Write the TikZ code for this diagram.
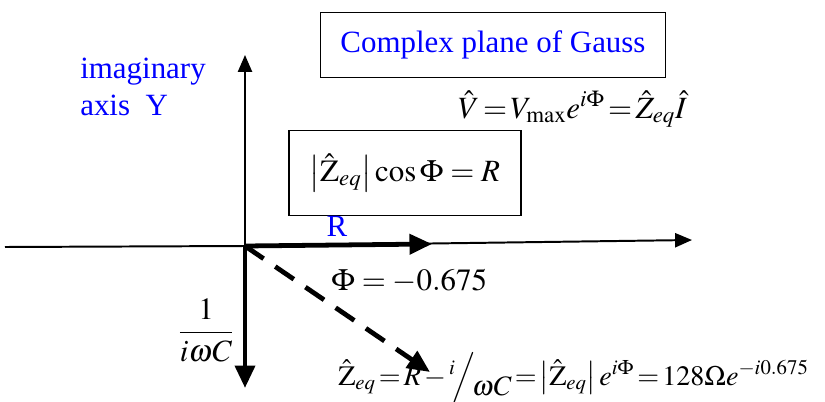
\documentclass[tikz,border=0pt]{standalone}
\usepackage{amsmath}
\usepackage{mathptmx}
\usepackage[no-math]{fontspec}
\setmainfont{Liberation Serif}
\usepackage{xcolor}
\usetikzlibrary{arrows.meta, positioning, calc}

\begin{document}
\begin{tikzpicture}[
		x=0.025cm, y=-0.025cm,
		every node/.style={font=\fontsize{22}{26}\selectfont, inner sep=0pt},
		axis/.style={line width=1.4pt},
		vec/.style={line width=3.4pt, -{Triangle[length=16pt, width=14pt]}},
		label/.style={text=blue},
		frame/.style={draw, line width=1pt, inner sep=0pt},
		tight/.style={execute at begin node={\thickmuskip=2mu\medmuskip=2mu}}
		]
		\useasboundingbox (0,0) rectangle (825,402);
		
		% Origin and axes
		\coordinate (O) at (245,246);
		\coordinate (West) at (5,247);
		\coordinate (North) at (245,55);
		\coordinate (Vtip) at (692,240);
		\draw[axis] (West) -- (O);
		\draw[axis, -{Triangle[length=12pt, width=10pt]}] (O) -- (North);
		\draw[axis, -{Triangle[length=12pt, width=10pt]}] (O) -- (Vtip);
		
		% Vectors
		\coordinate (Rtip) at (432,244);
		\coordinate (Ctip) at (245,388);
		\coordinate (Ztip) at (430,372);
		\draw[vec] (O) -- (Rtip);
		\draw[vec] (O) -- (Ctip);
		\draw[vec, dash pattern=on 16pt off 10pt] (O) -- (Ztip);
		
		% Boxes
		\node[frame, minimum width=345*0.025cm, minimum height=65*0.025cm,
			label] (gauss) at (493,45) {Complex plane of Gauss};
		\node[frame, minimum width=232*0.025cm, minimum height=85*0.025cm]
			(cosbox) at (405,173) {$\left|\hat{\mathrm{Z}}_{eq}\right|\cos\Phi = R$};
		
		% Labels
		\node[label, anchor=north west, align=left] (imag) at (80,58)
			{imaginary\\axis\ \ Y};
		\node[label] (rlab) at (337,226) {R};
		\node[anchor=base west] (phi) at (331,290) {$\Phi = -0.675$};
		\node (cap) at (206,330) {$\dfrac{1}{i\omega C}$};
		\node[anchor=base west, tight] (veq) at (458,118)
			{$\hat{V} = V_{\max}e^{i\Phi} = \hat{Z}_{eq}\hat{I}$};
		\node[anchor=base west, tight, font=\fontsize{20}{24}\selectfont] (zeq) at (338,385)
			{$\hat{\mathrm{Z}}_{eq} = R - {}^{i}\!\Big/\!\raisebox{-0.8ex}{$\omega C$}
			= \left|\hat{\mathrm{Z}}_{eq}\right| e^{i\Phi} = 128\Omega e^{-i0.675}$};
		
	\end{tikzpicture}
\end{document}
